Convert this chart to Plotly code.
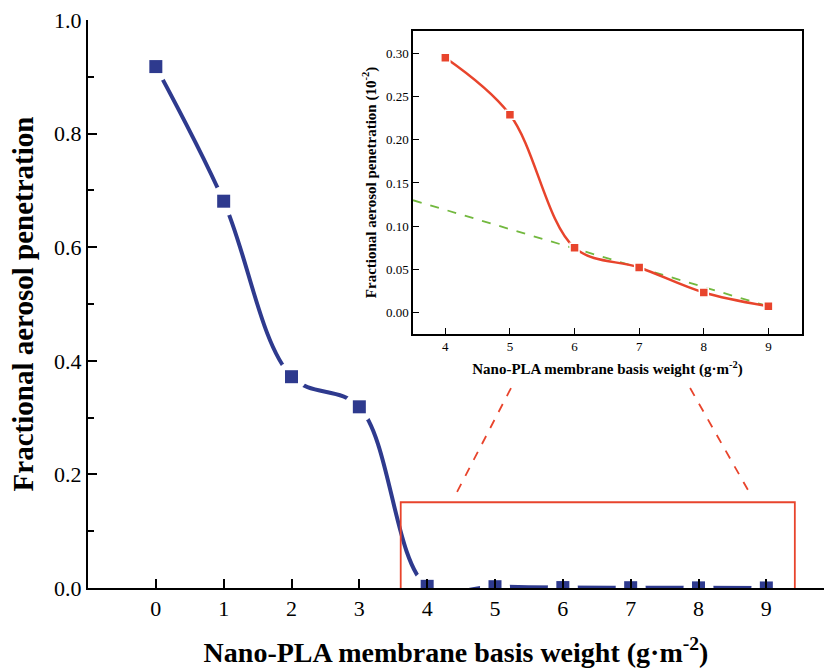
import plotly.graph_objects as go

# Main data
weight = [0, 1, 2, 3, 4, 5, 6, 7, 8, 9]
penetration = [0.918, 0.681, 0.372, 0.319, 0.00295, 0.00229, 0.00075, 0.00052, 0.00023, 0.00007]

# Inset data (units of 10^-2)
inset_weight = [4, 5, 6, 7, 8, 9]
inset_pen = [0.295, 0.229, 0.075, 0.052, 0.023, 0.007]

# Linear fit line in inset
fit_x = [3.5, 9]
fit_y = [0.130, 0.007]

x_ticks = [0, 1, 2, 3, 4, 5, 6, 7, 8, 9]
y_ticks = [0.0, 0.2, 0.4, 0.6, 0.8, 1.0]
inset_y_ticks = [0.00, 0.05, 0.10, 0.15, 0.20, 0.25, 0.30]

BLUE = "#2e3a8e"
RED = "#e8442c"
GREEN = "#72b83e"
FONT = "Liberation Serif, Times New Roman, serif"

fig = go.Figure()

# main curve
fig.add_trace(go.Scatter(x=weight, y=penetration, mode="lines",
                         line=dict(color=BLUE, width=4, shape="spline", smoothing=1.0),
                         xaxis="x", yaxis="y", showlegend=False, hoverinfo="skip"))
# white halo around markers (gap in line)
fig.add_trace(go.Scatter(x=weight, y=penetration, mode="markers",
                         marker=dict(symbol="circle", size=30, color="white"),
                         xaxis="x", yaxis="y", showlegend=False, hoverinfo="skip"))
fig.add_trace(go.Scatter(x=weight, y=penetration, mode="markers",
                         marker=dict(symbol="square", size=13, color=BLUE),
                         xaxis="x", yaxis="y", showlegend=False))

# inset
fig.add_trace(go.Scatter(x=fit_x, y=fit_y, mode="lines",
                         line=dict(color=GREEN, width=1.8, dash="dash"),
                         xaxis="x2", yaxis="y2", showlegend=False, hoverinfo="skip"))
fig.add_trace(go.Scatter(x=inset_weight, y=inset_pen, mode="lines",
                         line=dict(color=RED, width=2.5, shape="spline", smoothing=1.0),
                         xaxis="x2", yaxis="y2", showlegend=False, hoverinfo="skip"))
fig.add_trace(go.Scatter(x=inset_weight, y=inset_pen, mode="markers",
                         marker=dict(symbol="square", size=9, color=RED,
                                     line=dict(color="white", width=1.5)),
                         xaxis="x2", yaxis="y2", showlegend=False))

fig.update_layout(
    width=824, height=670,
    margin=dict(l=88, r=0, t=20, b=82),
    paper_bgcolor="white", plot_bgcolor="white",
    font=dict(family=FONT, color="black"),
    xaxis=dict(range=[-1.0, 9.85], tickvals=x_ticks, ticks="inside", ticklen=9, tickwidth=1.5,
               tickcolor="black", showline=True, linecolor="black", linewidth=2,
               showgrid=False, zeroline=False, layer="above traces",
               tickfont=dict(size=22, family=FONT),
               title=dict(text="<b>Nano-PLA membrane basis weight (g·m<sup>-2</sup>)</b>",
                          font=dict(size=28, family=FONT), standoff=22),
               domain=[0, 1]),
    yaxis=dict(range=[0, 1.0], tickvals=y_ticks, ticktext=["%.1f" % v for v in y_ticks],
               ticks="inside", ticklen=9, tickwidth=1.5, tickcolor="black",
               minor=dict(dtick=0.1, ticks="inside", ticklen=6, tickwidth=1.5, tickcolor="black"),
               showline=True, linecolor="black", linewidth=2,
               showgrid=False, zeroline=False, layer="above traces",
               tickfont=dict(size=22, family=FONT),
               title=dict(text="<b>Fractional aerosol penetration</b>",
                          font=dict(size=29, family=FONT), standoff=12),
               domain=[0, 1]),
    xaxis2=dict(range=[3.5, 9.52], tickvals=inset_weight, ticks="inside", ticklen=6,
                tickcolor="black", tickwidth=1.2, showline=True, mirror=True,
                linecolor="black", linewidth=1.5, showgrid=False, zeroline=False,
                anchor="y2", domain=[0.4416, 0.9701],
                tickfont=dict(size=13, family=FONT),
                title=dict(text="<b>Nano-PLA membrane basis weight (g·m<sup>-2</sup>)</b>",
                           font=dict(size=15, family=FONT), standoff=10)),
    yaxis2=dict(range=[-0.025, 0.326], tickvals=inset_y_ticks,
                ticktext=["%.2f" % v for v in inset_y_ticks],
                ticks="inside", ticklen=6, tickcolor="black", tickwidth=1.2,
                showline=True, mirror=True, linecolor="black", linewidth=1.5,
                showgrid=False, zeroline=False, anchor="x2", domain=[0.4472, 0.9806],
                tickfont=dict(size=13, family=FONT),
                title=dict(text="<b>Fractional aerosol penetration (10<sup>-2</sup>)</b>",
                           font=dict(size=15, family=FONT), standoff=6)),
    shapes=[
        dict(type="rect", xref="x", yref="y", x0=3.61, x1=9.42, y0=-0.016, y1=0.151,
             line=dict(color=RED, width=1.8), layer="above"),
        dict(type="line", xref="x", yref="y", x0=5.236, y0=0.352, x1=4.44, y1=0.169,
             line=dict(color=RED, width=1.8, dash="dash")),
        dict(type="line", xref="x", yref="y", x0=7.876, y0=0.352, x1=8.746, y1=0.169,
             line=dict(color=RED, width=1.8, dash="dash")),
    ],
)

fig.write_html("out.html")
